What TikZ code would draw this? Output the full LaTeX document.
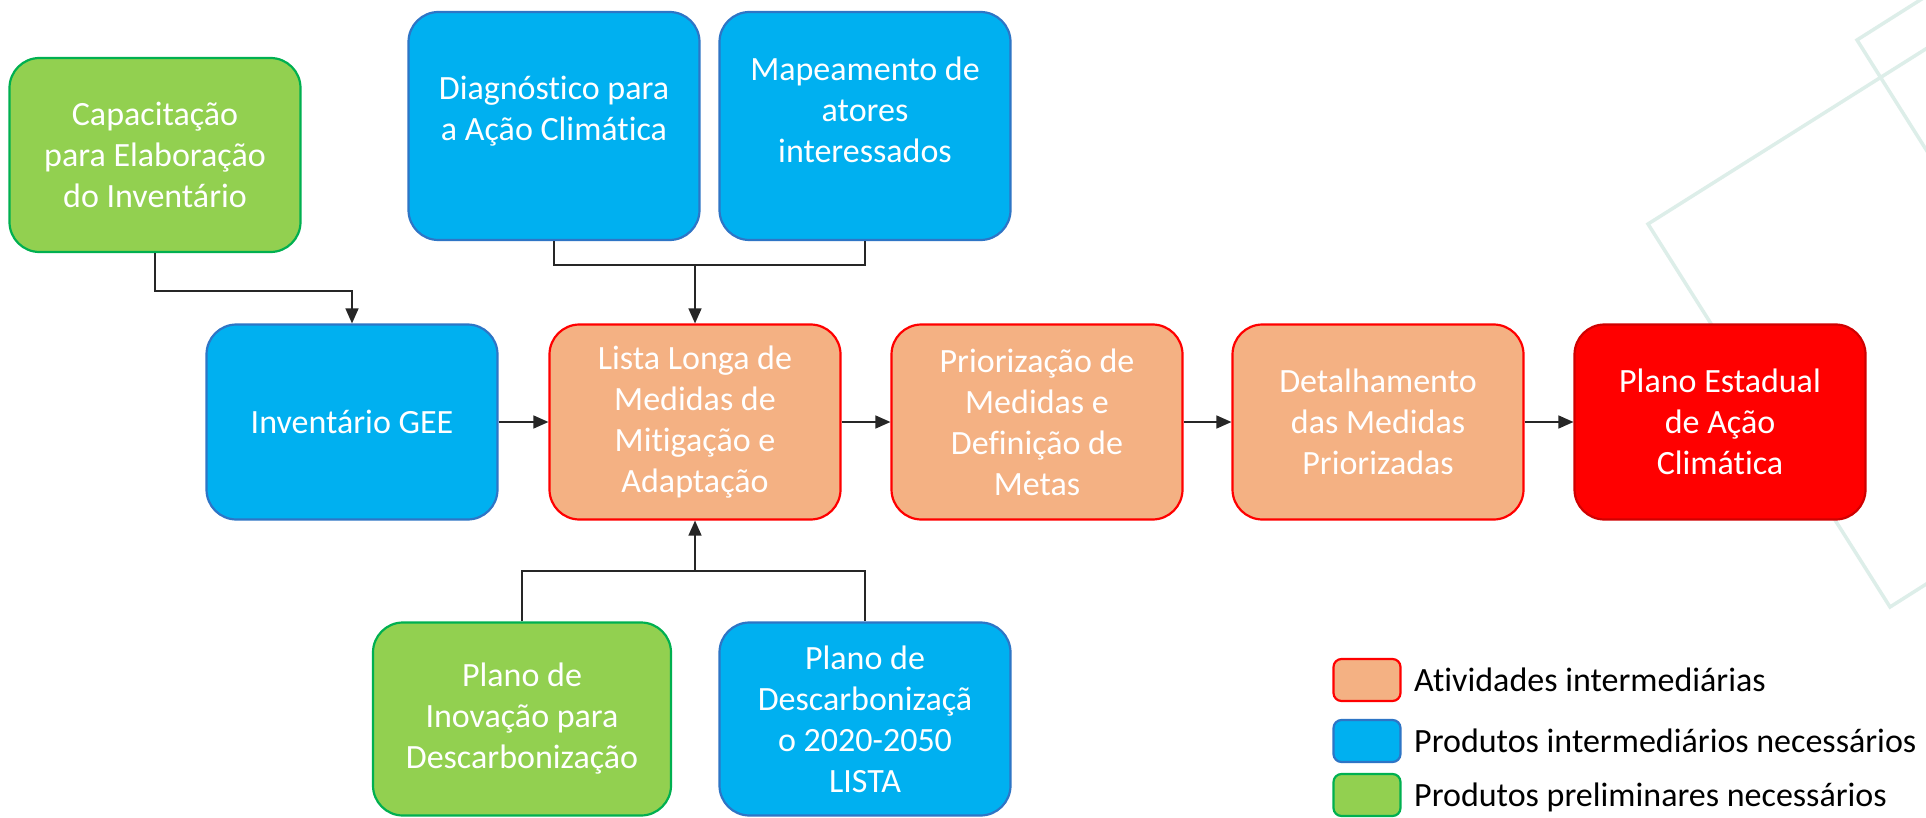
\documentclass[tikz,border=0pt]{standalone}
\usepackage{fontspec}
\setmainfont{Carlito}[Ligatures=NoCommon]
\usetikzlibrary{arrows.meta}
\definecolor{cblue}{HTML}{00B0F0}
\definecolor{cblueb}{HTML}{2E75C6}
\definecolor{cgreen}{HTML}{92D050}
\definecolor{cgreenb}{HTML}{00B050}
\definecolor{corange}{HTML}{F4B183}
\definecolor{cred}{HTML}{FF0000}
\definecolor{credb}{HTML}{D00000}
\definecolor{bgline}{HTML}{DDEEE9}
\begin{document}
\begin{tikzpicture}[x=1pt,y=-1pt,
  box/.style={rounded corners=30pt, minimum width=291pt, minimum height=195pt,
    align=center, text=white, font=\fontsize{34}{41}\selectfont, line width=2.2pt, inner sep=0pt},
  txt/.style={align=center, text=white, font=\fontsize{34}{41}\selectfont, inner sep=0pt},
  bluebox/.style={box, fill=cblue, draw=cblueb},
  greenbox/.style={box, fill=cgreen, draw=cgreenb},
  orangebox/.style={box, fill=corange, draw=cred},
  redbox/.style={box, fill=cred, draw=credb},
  legbox/.style={rounded corners=8pt, minimum width=67pt, minimum height=42pt, line width=2.2pt, inner sep=0pt},
  legtxt/.style={anchor=west, text=black, font=\fontsize{34}{41}\selectfont, inner sep=0pt},
  conn/.style={line width=1.4pt, draw=black!85},
  arr/.style={conn, -{Triangle[length=15pt,width=13pt]}}
]
\useasboundingbox (0,0) rectangle (1926,818);
\fill[white] (0,0) rectangle (1926,818);
\begin{scope}
  \clip (0,0) rectangle (1926,818);
  \draw[bgline, line width=3.5pt] (1986,11) -- (1648,224) -- (1890,607) -- (2059,500);
  \draw[bgline, line width=3.5pt] (2026,-67) -- (1857,40) -- (2017,294);
\end{scope}

% boxes
\node[greenbox, minimum height=194pt] (cap) at (155,155) {Capacitação\\para Elaboração\\do Inventário};
\node[bluebox, minimum height=228pt] (diag) at (554,126) {};
\node[txt] (diagt) at (554,111) {Diagnóstico para\\a Ação Climática};
\node[bluebox, minimum height=228pt] (mapa) at (865,126) {};
\node[txt] (mapat) at (865,110) {Mapeamento de\\atores\\interessados};
\node[bluebox] (inv) at (352,422) {Inventário GEE};
\node[orangebox] (lista) at (695,422) {Lista Longa de\\Medidas de\\Mitigação e\\Adaptação};
\node[orangebox] (prio) at (1037,422) {Priorização de\\Medidas e\\Definição de\\Metas};
\node[orangebox] (det) at (1378,422) {Detalhamento\\das Medidas\\Priorizadas};
\node[redbox] (plano) at (1720,422) {Plano Estadual\\de Ação\\Climática};
\node[greenbox, minimum width=298pt, minimum height=193pt] (inov) at (522,719) {Plano de\\Inovação para\\Descarbonização};
\node[bluebox, minimum height=193pt] (desc) at (865,719) {Plano de\\Descarbonizaçã\\o 2020-2050\\LISTA};

% connectors
\draw[arr] (cap.south) -- ++(0,38) -| (inv.north);
\coordinate (jt) at (695,265);
\coordinate (jb) at (695,571);
\draw[conn] (diag.south) |- (jt) -| (mapa.south);
\draw[arr] (jt) -- (lista.north);
\draw[conn] (inov.north) |- (jb) -| (desc.north);
\draw[arr] (jb) -- (lista.south);
\draw[arr] (inv.east) -- (lista.west);
\draw[arr] (lista.east) -- (prio.west);
\draw[arr] (prio.east) -- (det.west);
\draw[arr] (det.east) -- (plano.west);

% legend
\node[legbox, fill=corange, draw=cred] (leg1) at (1367,680) {};
\node[legbox, fill=cblue, draw=cblueb] (leg2) at (1367,741) {};
\node[legbox, fill=cgreen, draw=cgreenb] (leg3) at (1367,795) {};
\node[legtxt] (leg1t) at (1414,680) {Atividades intermediárias};
\node[legtxt] (leg2t) at (1414,741) {Produtos intermediários necessários};
\node[legtxt] (leg3t) at (1414,797) {Produtos preliminares necessários};
\end{tikzpicture}
\end{document}
